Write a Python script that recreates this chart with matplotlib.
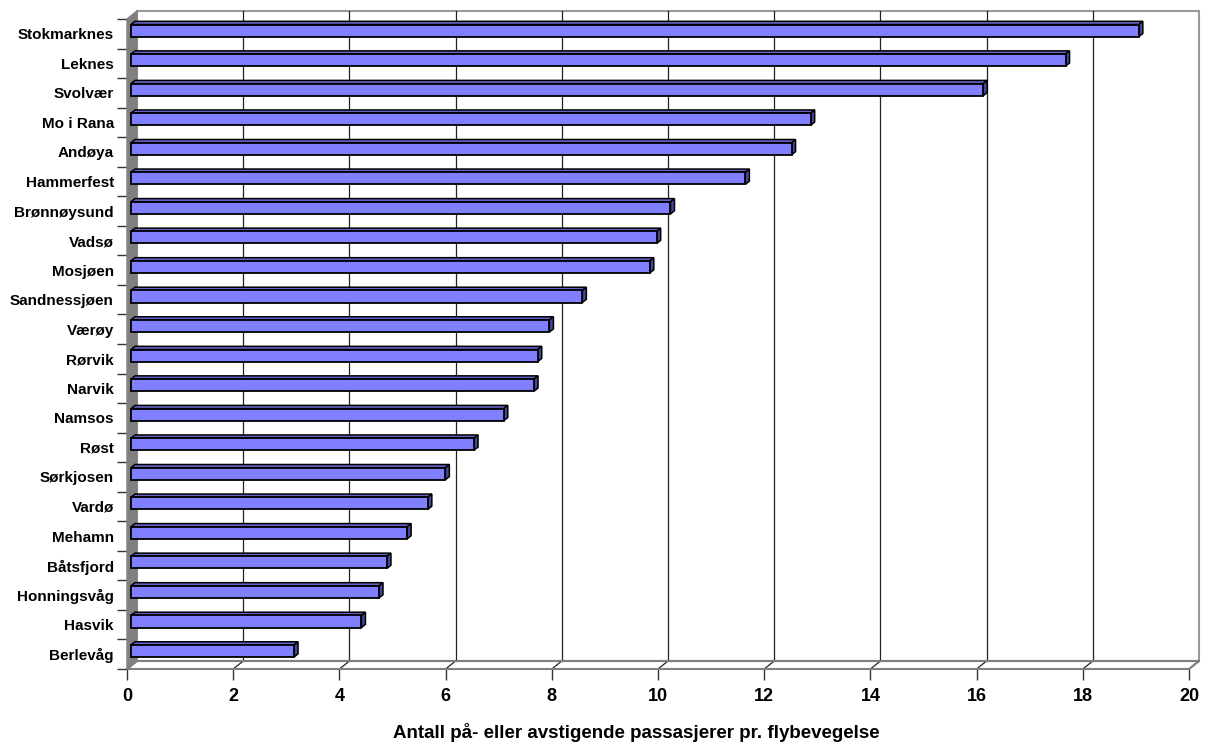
import matplotlib.pyplot as plt
from matplotlib.patches import Polygon

plt.rcParams['font.family'] = ['Liberation Sans', 'DejaVu Sans']
plt.rcParams['font.weight'] = 'bold'

# airports from top to bottom, passengers per flight movement
airports = ['Stokmarknes', 'Leknes', 'Svolvær', 'Mo i Rana', 'Andøya', 'Hammerfest',
            'Brønnøysund', 'Vadsø', 'Mosjøen', 'Sandnessjøen', 'Værøy', 'Rørvik',
            'Narvik', 'Namsos', 'Røst', 'Sørkjosen', 'Vardø', 'Mehamn', 'Båtsfjord',
            'Honningsvåg', 'Hasvik', 'Berlevåg']
values = [18.98, 17.6, 16.05, 12.8, 12.44, 11.57, 10.16, 9.9, 9.77, 8.5, 7.88, 7.66,
          7.59, 7.02, 6.46, 5.92, 5.59, 5.2, 4.82, 4.67, 4.34, 3.07]
xticks = [0, 2, 4, 6, 8, 10, 12, 14, 16, 18, 20]
xlabel = 'Antall på- eller avstigende passasjerer pr. flybevegelse'

W, H = 1209, 747
fig = plt.figure(figsize=(W / 100, H / 100), dpi=100)
ax = fig.add_axes([127 / W, 1 - 669 / H, (1189 - 127) / W, (669 - 19) / H])
n = len(airports)
xmax = 20
ax.set_xlim(0, xmax)
ax.set_ylim(0, n)
for s in ax.spines.values():
    s.set_visible(False)

# depth offset of the 3d box, in data units
dx = 10 / 53.1
dy = 8 / 29.55
grey = '#808080'

# back wall
ax.add_patch(Polygon([(dx, dy), (xmax + dx, dy), (xmax + dx, n + dy), (dx, n + dy)],
                     closed=True, fc='white', ec='#999999', lw=1.5, clip_on=False, zorder=1))
# gridlines on back wall and floor
for t in xticks[1:-1]:
    ax.plot([t + dx, t + dx], [dy, n + dy], color='#222222', lw=0.9, clip_on=False, zorder=2)
for t in xticks:
    ax.plot([t, t + dx], [0, dy], color='#222222', lw=0.9, clip_on=False, zorder=2)
# floor
ax.add_patch(Polygon([(0, 0), (xmax, 0), (xmax + dx, dy), (dx, dy)],
                     closed=True, fc='none', ec=grey, lw=1.5, clip_on=False, zorder=2))
# left wall
ax.add_patch(Polygon([(0, 0), (dx, dy), (dx, n + dy), (0, n)],
                     closed=True, fc=grey, ec=grey, lw=1, clip_on=False, zorder=2))

# bars
f1, f2 = 0.4, 0.8
h = 0.41
for i, (name, v) in enumerate(zip(airports, values)):
    c = n - i - 0.5
    x0, x1 = f1 * dx, v + f1 * dx
    yb, yt = c - h / 2 + f1 * dy, c + h / 2 + f1 * dy
    ex, ey = (f2 - f1) * dx, (f2 - f1) * dy
    ax.add_patch(Polygon([(x0, yt), (x1, yt), (x1 + ex, yt + ey), (x0 + ex, yt + ey)],
                         closed=True, fc='#6464c8', ec='black', lw=1.1, clip_on=False, zorder=4))
    ax.add_patch(Polygon([(x1, yb), (x1 + ex, yb + ey), (x1 + ex, yt + ey), (x1, yt)],
                         closed=True, fc='#46469a', ec='black', lw=1.1, clip_on=False, zorder=4))
    ax.add_patch(Polygon([(x0, yb), (x1, yb), (x1, yt), (x0, yt)],
                         closed=True, fc='#8080ff', ec='black', lw=1.3, clip_on=False, zorder=5))

# axes ticks and labels
ax.set_xticks(xticks)
ax.set_xticklabels([str(t) for t in xticks], fontsize=13, fontweight='bold')
ax.tick_params(axis='x', length=8, width=1, color='#333333', pad=6)
ax.set_yticks([n - i - 0.5 for i in range(n)])
ax.set_yticklabels(airports, fontsize=11, fontweight='bold')
ax.set_yticks(range(n + 1), minor=True)
ax.tick_params(axis='y', which='major', length=0, pad=9.5)
ax.tick_params(axis='y', which='minor', length=7, width=1, color='#333333')
ax.set_xlabel(xlabel, fontsize=13.5, fontweight='bold')
ax.xaxis.set_label_coords(0.48, -0.083)

fig.savefig('out.png', dpi=100)
